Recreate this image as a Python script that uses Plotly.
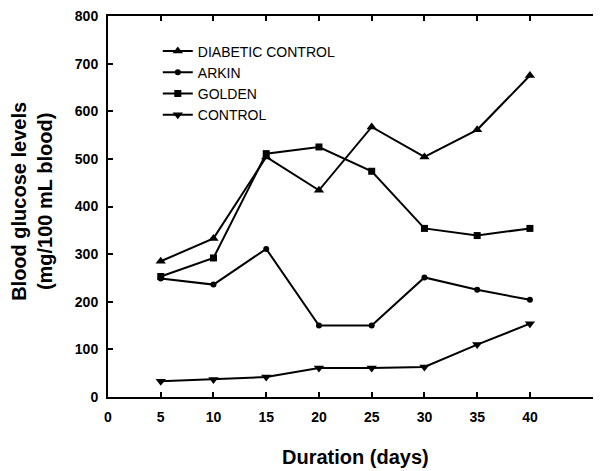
import plotly.graph_objects as go

days = [5, 10, 15, 20, 25, 30, 35, 40]
diabetic_control = [285, 333, 504, 434, 567, 504, 561, 675]
arkin = [249, 236, 311, 150, 150, 251, 225, 204]
golden = [253, 292, 511, 525, 474, 354, 339, 354]
control = [33, 37, 42, 61, 61, 63, 110, 154]

x_ticks = [0, 5, 10, 15, 20, 25, 30, 35, 40]
y_ticks = [0, 100, 200, 300, 400, 500, 600, 700, 800]

FONT = "Liberation Sans, Arial, sans-serif"

series = [
    ("DIABETIC CONTROL", diabetic_control, "triangle-up", 9),
    ("ARKIN", arkin, "circle", 6),
    ("GOLDEN", golden, "square", 7),
    ("CONTROL", control, "triangle-down", 9),
]

fig = go.Figure()
for name, vals, sym, sz in series:
    fig.add_trace(go.Scatter(
        x=days, y=vals, name=name, mode="lines+markers",
        line=dict(color="black", width=2),
        marker=dict(symbol=sym, size=sz, color="black"),
        cliponaxis=False,
    ))

axis_common = dict(
    showline=True, linecolor="black", linewidth=2, mirror="allticks",
    ticks="inside", ticklen=5, tickwidth=1.5, tickcolor="black",
    showgrid=False, zeroline=False, ticklabeloverflow="allow",
    tickfont=dict(family=FONT, size=14, color="black", weight="bold"),
)

fig.update_xaxes(range=[0, 46.55], tickvals=x_ticks, ticktext=[str(v) for v in x_ticks],
                 ticklabelstandoff=6, **axis_common)
fig.update_yaxes(range=[0, 800], tickvals=y_ticks, ticktext=[str(v) for v in y_ticks],
                 ticklabelstandoff=5, **axis_common)

# page has an 8px body margin: figure spans page x 8..601, y 8..471
PW = 493.0
PH = 382.0
fig.add_annotation(text="Blood glucose levels<br>(mg/100 mL blood)", textangle=-90,
                   xref="paper", yref="paper", x=(31 - 108) / PW, y=0.513,
                   xanchor="center", yanchor="middle", showarrow=False,
                   font=dict(family=FONT, size=20, color="black", weight="bold"))
fig.add_annotation(text="Duration (days)",
                   xref="paper", yref="paper", x=(357 - 108) / PW, y=(397 - 457) / PH,
                   xanchor="center", yanchor="middle", showarrow=False,
                   font=dict(family=FONT, size=20, color="black", weight="bold"))

fig.update_layout(
    width=593, height=463,
    margin=dict(l=100, r=0, t=7, b=74),
    paper_bgcolor="white", plot_bgcolor="white",
    showlegend=True,
    legend=dict(x=(158 - 108) / PW, y=(397 - 34.5) / PH, xanchor="left", yanchor="top",
                bgcolor="rgba(0,0,0,0)", itemwidth=30, tracegroupgap=0,
                font=dict(family=FONT, size=14, color="black")),
    font=dict(family=FONT, color="black"),
)

fig.write_html("out.html")
